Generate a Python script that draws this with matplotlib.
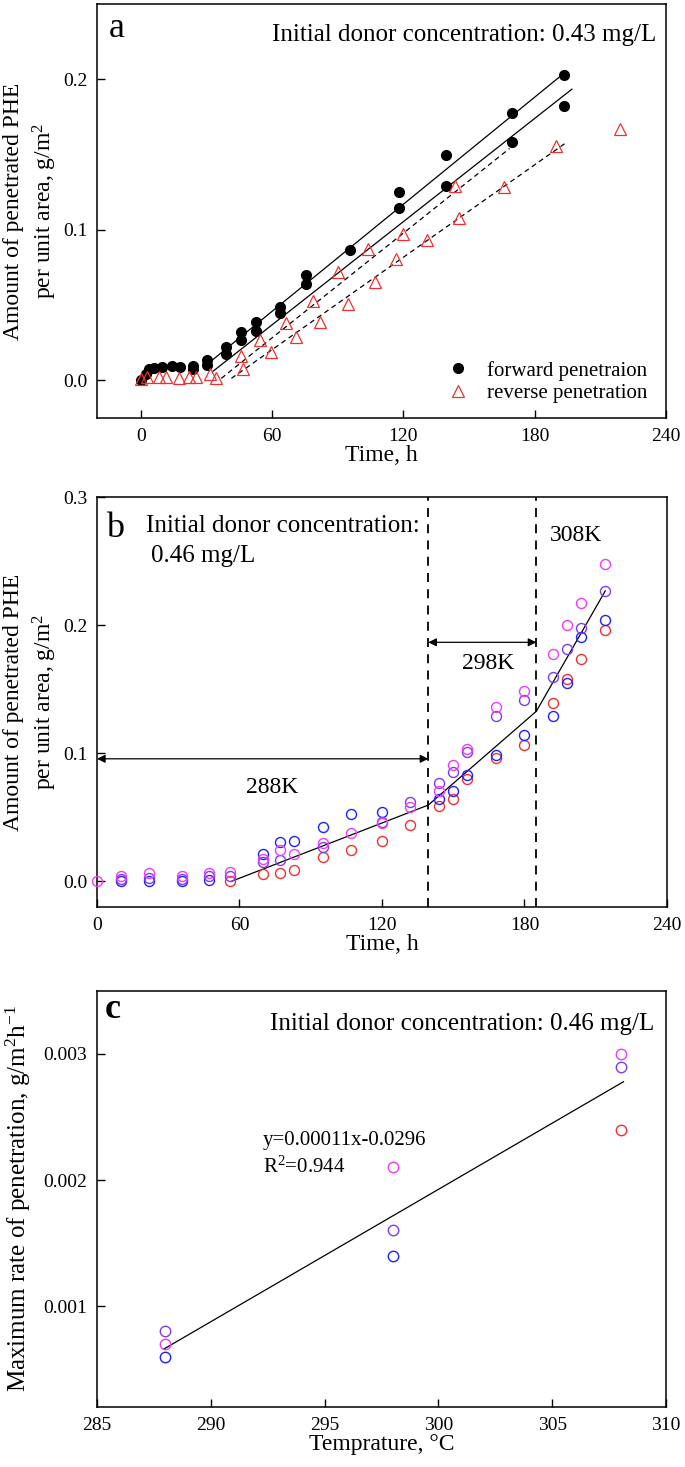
import numpy as np
import matplotlib
matplotlib.use('Agg')
import matplotlib.pyplot as plt

plt.rcParams['font.family'] = ['Liberation Serif', 'DejaVu Serif']
plt.rcParams['mathtext.fontset'] = 'custom'
plt.rcParams['mathtext.rm'] = 'Liberation Serif'
plt.rcParams['mathtext.it'] = 'Liberation Serif:italic'

# ---- panel a data ----
fwd_t = [0, 2.2, 3.9, 6.2, 9.9, 14.2, 18.1, 23.9, 23.9, 30.1, 30.1, 39, 39, 45.8, 45.8,
         52.6, 52.6, 63.8, 63.8, 75.7, 75.7, 95.7, 118, 118, 139.5, 139.5, 169.4, 169.4,
         193.2, 193.2]
fwd_y = [0, 0.0044, 0.0077, 0.008, 0.0088, 0.0093, 0.0088, 0.0095, 0.0077, 0.0132, 0.0099,
         0.022, 0.0176, 0.032, 0.0265, 0.0386, 0.033, 0.0485, 0.045, 0.07, 0.064, 0.0867,
         0.125, 0.1147, 0.150, 0.1294, 0.1775, 0.158, 0.2026, 0.1824]
rev_t = [0, 3, 8.2, 11.6, 17.6, 22.2, 25.3, 31.8, 34.2, 45.8, 46.7, 54.7, 59.5, 66.3, 71.1,
         78.6, 81.7, 90.3, 94.7, 103.9, 106.8, 116.4, 119.7, 130.8, 143.6, 145.5, 166,
         189.7, 219]
rev_y = [0.001, 0.002, 0.002, 0.002, 0.0018, 0.002, 0.002, 0.0044, 0.0018, 0.016, 0.0073,
         0.0265, 0.0187, 0.038, 0.0287, 0.053, 0.039, 0.072, 0.051, 0.087, 0.0655, 0.0805,
         0.097, 0.0933, 0.129, 0.108, 0.1285, 0.1555, 0.167]
# fitted lines (start, end)
fit_fwd1_t, fit_fwd1_y = [30.8, 194.5], [0.0112, 0.2053]
fit_fwd2_t, fit_fwd2_y = [33, 197], [0.006, 0.1934]
fit_rev1_t, fit_rev1_y = [36.8, 168.5], [0.0013, 0.154]
fit_rev2_t, fit_rev2_y = [41.4, 194.2], [0.0013, 0.1577]

# ---- panel b data ----
nan = np.nan
b_t = [0, 10, 22, 36, 47, 56, 70, 77, 83, 95, 107, 120, 132, 144, 150, 156, 168, 180,
       192, 198, 204, 214]
b_blue = [nan, 0.0, 0.0, 0.0, 0.0013, nan, 0.0214, 0.0308, 0.0314, 0.0424, 0.0523, 0.0541,
          nan, 0.064, 0.0706, 0.0829, 0.0986, 0.1145, 0.1294, 0.155, 0.1908, 0.2039]
b_violet = [nan, 0.002, 0.0026, 0.002, 0.0044, 0.0044, 0.0151, 0.017, nan, 0.0272, nan,
            0.046, 0.0622, 0.0771, 0.0855, 0.1007, 0.1294, 0.1417, 0.1595, 0.181, 0.1974,
            0.2267]
b_magenta = [0.0, 0.0044, 0.0065, 0.004, 0.0065, 0.0073, 0.0174, 0.0248, 0.0214, 0.0298,
             0.0379, 0.0457, 0.058, 0.0706, 0.091, 0.1033, 0.136, 0.149, 0.1773, 0.2005,
             0.217, 0.2478]
b_red = [nan, nan, nan, nan, nan, 0.0, 0.0057, 0.0065, 0.0092, 0.0188, 0.0248, 0.0319,
         0.0439, 0.0588, 0.0646, 0.0797, 0.0962, 0.1067, 0.139, 0.158, 0.1739, 0.1966]
b_fit_t = [56.5, 139.5, 185, 214]
b_fit_y = [0.0, 0.0596, 0.1328, 0.2267]
b_bounds = [139.5, 185]

# ---- panel c data ----
c_T = [288, 298, 308]
c_blue = [0.0006, 0.0014, nan]
c_violet = [0.0008, 0.0016, 0.0029]
c_magenta = [0.0007, 0.0021, 0.0030]
c_red = [nan, nan, 0.0024]
c_fit_T = [287.94, 308.13]
c_fit_y = [0.00066, 0.00278]

BLUE = '#2020ff'
VIOLET = '#7d3cf2'
MAGENTA = '#f03cf5'
RED = '#f03030'

fig = plt.figure(figsize=(6.85, 14.67), dpi=100)
ax1 = fig.add_axes([0.1416, 0.7151, 0.8307, 0.2822])
ax2 = fig.add_axes([0.1416, 0.3817, 0.8321, 0.2795])
ax3 = fig.add_axes([0.1416, 0.0409, 0.8307, 0.2836])

for ax in (ax1, ax2, ax3):
    for s in ax.spines.values():
        s.set_linewidth(1.1)
    ax.tick_params(direction='in', length=6, width=1, labelsize=14, pad=7,
                   top=False, right=False)

# panel a
ax1.plot(fit_fwd1_t, fit_fwd1_y, color='black', lw=0.9)
ax1.plot(fit_fwd2_t, fit_fwd2_y, color='black', lw=0.9)
ax1.plot(fit_rev1_t, fit_rev1_y, color='black', lw=0.9, linestyle=(0, (4, 3)))
ax1.plot(fit_rev2_t, fit_rev2_y, color='black', lw=0.9, linestyle=(0, (4, 3)))
ax1.plot(fwd_t, fwd_y, 'o', color='black', ms=7, label='forward penetraion', zorder=3)
ax1.plot(rev_t, rev_y, '^', mfc='none', mec=RED, mew=0.9, ms=9,
         label='reverse penetration', zorder=4)
ax1.set_xlim(-20, 240)
ax1.set_ylim(-0.025, 0.25)
ax1.set_xticks([0, 60, 120, 180, 240])
ax1.set_yticks([0.0, 0.1, 0.2])
ax1.set_yticklabels(['0.0', '0.1', '0.2'])
ax1.set_xlabel('Time, h', fontsize=17, labelpad=0)
ax1.set_ylabel('Amount of penetrated PHE\nper unit area, g/m$^2$', fontsize=17,
               linespacing=1.3)
ax1.yaxis.set_label_coords(-0.067, 0.5)
ax1.text(0.02, 0.92, 'a', transform=ax1.transAxes, fontsize=26, va='baseline')
ax1.text(0.982, 0.911, 'Initial donor concentration: 0.43 mg/L', transform=ax1.transAxes,
         fontsize=18, ha='right', va='baseline')
ax1.legend(loc='lower right', bbox_to_anchor=(0.968, 0.035), frameon=False, fontsize=15,
           handlelength=1.0, handletextpad=0.9, labelspacing=0.15, borderpad=0,
           borderaxespad=0)

# panel b
ax2.plot(b_fit_t, b_fit_y, color='black', lw=0.9, zorder=2)
for vals, col in ((b_red, RED), (b_blue, BLUE), (b_violet, VIOLET), (b_magenta, MAGENTA)):
    ax2.plot(b_t, vals, 'o', mfc='none', mec=col, mew=1.0, ms=7.2, zorder=3, clip_on=False)
for xb in b_bounds:
    ax2.axvline(xb, color='black', lw=1.3, linestyle=(0, (5, 4)))
ax2.annotate('', xy=(0, 0.0957), xytext=(b_bounds[0], 0.0957),
             arrowprops=dict(arrowstyle='<|-|>', color='black', lw=0.9,
                             mutation_scale=12, shrinkA=0, shrinkB=0))
ax2.annotate('', xy=(b_bounds[0], 0.1866), xytext=(b_bounds[1], 0.1866),
             arrowprops=dict(arrowstyle='<|-|>', color='black', lw=0.9,
                             mutation_scale=12, shrinkA=0, shrinkB=0))
ax2.text(73.7, 0.073, '288K', fontsize=17, ha='center', va='center')
ax2.text(164.6, 0.170, '298K', fontsize=17, ha='center', va='center')
ax2.text(201.7, 0.270, '308K', fontsize=17, ha='center', va='center')
ax2.text(0.016, 0.902, 'b', transform=ax2.transAxes, fontsize=26, va='baseline')
ax2.text(0.086, 0.915, 'Initial donor concentration:', transform=ax2.transAxes,
         fontsize=18, ha='left', va='baseline')
ax2.text(0.095, 0.842, '0.46 mg/L', transform=ax2.transAxes,
         fontsize=18, ha='left', va='baseline')
ax2.set_xlim(0, 240)
ax2.set_ylim(-0.02, 0.3)
ax2.set_xticks([0, 60, 120, 180, 240])
ax2.set_yticks([0.0, 0.1, 0.2, 0.3])
ax2.set_yticklabels(['0.0', '0.1', '0.2', '0.3'])
ax2.set_xlabel('Time, h', fontsize=17, labelpad=0)
ax2.set_ylabel('Amount of penetrated PHE\nper unit area, g/m$^2$', fontsize=17,
               linespacing=1.3)
ax2.yaxis.set_label_coords(-0.067, 0.5)

# panel c
ax3.plot(c_fit_T, c_fit_y, color='black', lw=0.9)
for vals, col in ((c_blue, BLUE), (c_violet, VIOLET), (c_magenta, MAGENTA), (c_red, RED)):
    ax3.plot(c_T, vals, 'o', mfc='none', mec=col, mew=1.0, ms=7.5, zorder=3)
ax3.set_xlim(285, 310)
ax3.set_ylim(0.0002, 0.0035)
ax3.set_xticks([285, 290, 295, 300, 305, 310])
ax3.set_yticks([0.001, 0.002, 0.003])
ax3.set_yticklabels(['0.001', '0.002', '0.003'])
ax3.set_xlabel('Temprature, °C', fontsize=17, labelpad=0)
ax3.set_ylabel('Maximum rate of penetration, g/m$^2$h$^{-1}$', fontsize=18)
ax3.yaxis.set_label_coords(-0.112, 0.5)
ax3.text(0.014, 0.935, 'c', transform=ax3.transAxes, fontsize=26, fontweight='bold',
         va='baseline')
ax3.text(0.979, 0.905, 'Initial donor concentration: 0.46 mg/L', transform=ax3.transAxes,
         fontsize=18, ha='right', va='baseline')
ax3.text(292.3, 0.00228, 'y=0.00011x-0.0296', fontsize=15, ha='left', va='baseline')
ax3.text(292.3, 0.00206, 'R$^2$=0.944', fontsize=15, ha='left', va='baseline')

fig.savefig('out.png', dpi=100)
